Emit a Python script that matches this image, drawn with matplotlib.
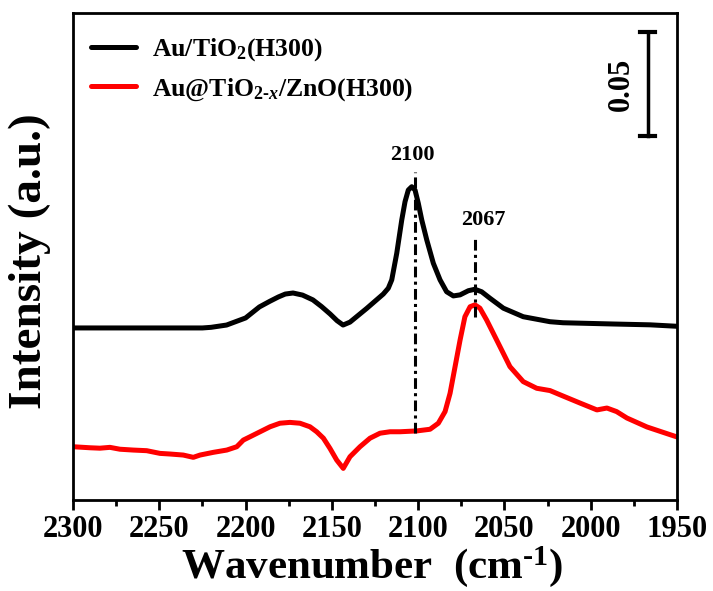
import numpy as np
import matplotlib
matplotlib.use("Agg")
import matplotlib.pyplot as plt

plt.rcParams['font.family'] = ['Liberation Serif']
plt.rcParams['font.weight'] = 'bold'
plt.rcParams['mathtext.fontset'] = 'custom'
plt.rcParams['mathtext.rm'] = 'Liberation Serif:bold'
plt.rcParams['mathtext.bf'] = 'Liberation Serif:bold'
plt.rcParams['mathtext.it'] = 'Liberation Serif:bold:italic'

# Au/TiO2(H300)
wn_black = [2300, 2255, 2225, 2220, 2211, 2200, 2192, 2186, 2181, 2177, 2172.5, 2167, 2161, 2156,
            2151, 2147, 2143.5, 2139.5, 2129.8, 2120.2, 2117.3, 2115.3, 2112.4, 2109.5, 2107.6,
            2105.7, 2103.7, 2101.8, 2099.9, 2097.9, 2095.0, 2091.2, 2087.3, 2083.5, 2079.6,
            2075.7, 2070.9, 2067.1, 2063.2, 2058.4, 2050.6, 2039.1, 2023.6, 2016, 1987, 1965.6, 1950]
int_black = [0.0827, 0.0827, 0.0827, 0.0830, 0.0841, 0.0875, 0.0928, 0.0955, 0.0976, 0.0990, 0.0995,
             0.0985, 0.0962, 0.0930, 0.0894, 0.0862, 0.0841, 0.0855, 0.0921, 0.0990, 0.1018, 0.1058,
             0.1186, 0.1346, 0.1434, 0.1490, 0.1506, 0.1490, 0.1426, 0.1346, 0.1250, 0.1138, 0.1058,
             0.1001, 0.0981, 0.0986, 0.1006, 0.1013, 0.1001, 0.0970, 0.0922, 0.0881, 0.0857, 0.0852,
             0.0846, 0.0842, 0.0835]

# Au@TiO2-x/ZnO(H300)
wn_red = [2300, 2290.1, 2284.4, 2278.6, 2272.8, 2265.1, 2257.3, 2249.6, 2243.8, 2236.1, 2230.3,
          2226.4, 2218.7, 2210.9, 2205.1, 2201.3, 2197.4, 2191.6, 2185.8, 2180.1, 2174.3, 2168.5,
          2162.7, 2158.8, 2154.9, 2151.1, 2147.2, 2143.4, 2139.5, 2133.7, 2127.9, 2122.1, 2116.3,
          2110.5, 2100.8, 2093.1, 2088.3, 2084.4, 2081.5, 2078.6, 2075.7, 2072.9, 2069.9, 2067.1,
          2064.2, 2060.3, 2054.5, 2046.8, 2039.1, 2031.3, 2023.6, 2016.1, 2006.2, 1996.4, 1990.6,
          1985, 1979, 1967.4, 1958, 1950]
int_red = [0.0256, 0.0251, 0.0249, 0.0253, 0.0244, 0.0240, 0.0237, 0.0224, 0.0221, 0.0216, 0.0205,
           0.0216, 0.0229, 0.0240, 0.0256, 0.0288, 0.0304, 0.0328, 0.0352, 0.0369, 0.0373, 0.0369,
           0.0352, 0.0328, 0.0297, 0.0248, 0.0192, 0.0152, 0.0208, 0.0256, 0.0297, 0.0321, 0.0328,
           0.0328, 0.0332, 0.0340, 0.0369, 0.0425, 0.0513, 0.0641, 0.0769, 0.0881, 0.0929, 0.0938,
           0.0922, 0.0865, 0.0769, 0.0641, 0.0569, 0.0537, 0.0526, 0.0500, 0.0466, 0.0433, 0.0442,
           0.0425, 0.0394, 0.0351, 0.0325, 0.0303]

peak_pos = [2102, 2067]
peak_labels = ['2100', '2067']
peak_lines = [(0.0322, 0.1577), (0.088, 0.126)]
label_pos = [(2103.6, 0.1659), (2062.4, 0.1346)]
scale_bar = (0.175, 0.225)

fig = plt.figure(figsize=(7.13, 5.91), dpi=100)
ax = fig.add_axes([0.1024, 0.154, 0.8471, 0.824])

kw = dict(lw=3.6, solid_joinstyle='round', solid_capstyle='round')
ax.plot(wn_black, int_black, color='black', label=r'Au/TiO$_2$(H300)', **kw)
ax.plot(wn_red, int_red, color='red', label=r'Au@TiO$_{2\text{-}x}$/ZnO(H300)', **kw)

for p, lab, (y0, y1), (tx, ty) in zip(peak_pos, peak_labels, peak_lines, label_pos):
    ax.plot([p, p], [y0, y1], color='black', lw=2.2, ls=(0, (3.5, 1.4, 1, 1.4)))
    ax.text(tx, ty, lab, ha='center', va='center', fontsize=16, fontweight='bold')

# scale bar
xb = 1967
ax.plot([xb, xb], scale_bar, color='black', lw=2.5)
for yb in scale_bar:
    ax.plot([xb + 4.5, xb - 4.5], [yb, yb], color='black', lw=3)
ax.text(xb + 15.5, sum(scale_bar) / 2, '0.05', rotation=90, ha='center', va='center',
        fontsize=22, fontweight='bold')

ax.set_xlim(2300, 1950)
ax.set_ylim(0, 0.2341)
ax.set_xticks(np.arange(2300, 1949, -50))
ax.set_xticks(np.arange(2275, 1949, -50), minor=True)
ax.set_yticks([])
ax.tick_params(axis='x', which='major', direction='out', length=7, width=2, labelsize=22, pad=4)
ax.tick_params(axis='x', which='minor', direction='out', length=4, width=2)
for s in ax.spines.values():
    s.set_linewidth(2)

fig.text(372 / 713, 13 / 591, 'Wavenumber  (cm$^{\\text{-}1}$)', ha='center', va='baseline',
         fontsize=31, fontweight='bold')
ax.set_ylabel('Intensity (a.u.)', fontsize=34, fontweight='bold')
ax.yaxis.set_label_coords(-0.036, 0.491)

leg = ax.legend(loc='upper left', frameon=False, fontsize=18.5, handlelength=1.75,
                bbox_to_anchor=(-0.012, 1.005), borderaxespad=0.6, labelspacing=0.5,
                handletextpad=0.6)

fig.savefig('out.png', dpi=100)
